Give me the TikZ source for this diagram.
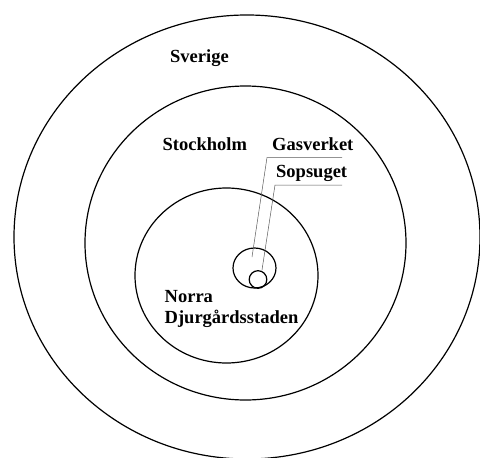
\documentclass[tikz,border=0pt]{standalone}
\usepackage{fontspec}
\setmainfont{Liberation Serif}
\begin{document}
\begin{tikzpicture}[x=1pt,y=-1pt,
  ring/.style={draw=black,line width=1.2pt},
  lbl/.style={anchor=base west,inner sep=0pt,font=\fontsize{18.5}{20}\selectfont\bfseries},
  leader/.style={draw=black!65,line width=0.5pt}]
\useasboundingbox (0,0) rectangle (480,458);
% nested areas
\draw[ring] (247,237) ellipse [x radius=233,y radius=222];
\draw[ring] (245.5,243) ellipse [x radius=160.5,y radius=157];
\draw[ring] (226.5,275.5) ellipse [x radius=91.5,y radius=87.5];
\draw[ring] (254.5,268) ellipse [x radius=21.5,y radius=20];
\draw[ring] (258,279.5) circle [radius=8.8];
% labels
\node[lbl] (sve) at (170,62.5) {Sverige};
\node[lbl] (sto) at (162.5,150) {Stockholm};
\node[lbl] (gas) at (272,150) {Gasverket};
\node[lbl] (sop) at (276,177) {Sopsuget};
\node[lbl] (nor) at (164.5,302.5) {Norra};
\node[lbl] (dju) at (164.5,323) {Djurgårdsstaden};
% leader lines
\coordinate (gpt) at (252,257);
\coordinate (gbend) at (267,157.5);
\coordinate (gend) at (342,157.5);
\coordinate (spt) at (262,270);
\coordinate (sbend) at (275,185);
\coordinate (send) at (342,185);
\draw[leader] (gpt) -- (gbend) -- (gend);
\draw[leader] (spt) -- (sbend) -- (send);
\end{tikzpicture}
\end{document}
